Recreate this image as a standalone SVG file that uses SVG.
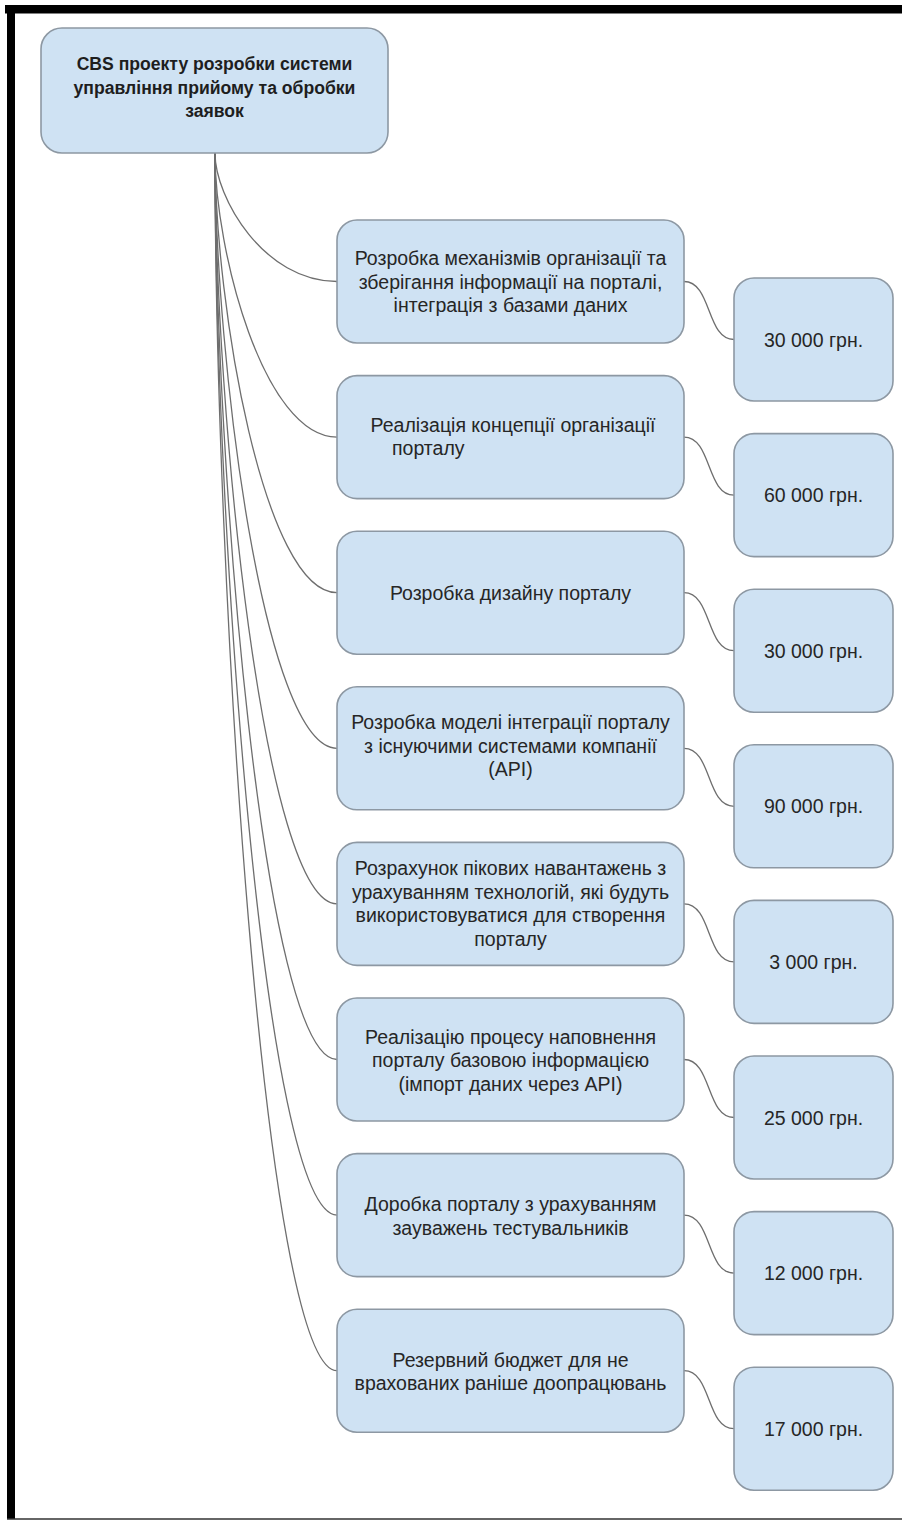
<svg xmlns="http://www.w3.org/2000/svg" width="902" height="1521" viewBox="0 0 902 1521">
  <style>
    .box { fill: #cfe2f3; stroke: #8d98a3; stroke-width: 1.6; }
    .lbl { font-family: "Liberation Sans", Arial, sans-serif; font-size: 19.5px; fill: #262626; text-anchor: middle; }
    .lbl.left { text-anchor: start; }
    .root { font-family: "Liberation Sans", Arial, sans-serif; font-size: 17.6px; font-weight: bold; fill: #1e1e1e; text-anchor: middle; }
    .wire { fill: none; stroke: #6e6e6e; stroke-width: 1.3; }
  </style>

  <!-- page frame -->
  <rect x="0" y="0" width="902" height="1521" fill="#ffffff"/>
  <rect x="5" y="5" width="897" height="8.5" fill="#000000"/>
  <rect x="7" y="5" width="8" height="1514" fill="#000000"/>
  <line x1="7" y1="1519" x2="902" y2="1519" stroke="#333333" stroke-width="1.5"/>

  <!-- connectors -->
  <g id="connectors" class="wire">
    <path d="M215,153 C215,198 264,281.5 337,281.5"/>
    <path d="M215,153 C215,252 264,437.1 337,437.1"/>
    <path d="M215,153 C215,307 264,592.7 337,592.7"/>
    <path d="M215,153 C215,361 264,748.3 337,748.3"/>
    <path d="M215,153 C215,416 264,903.9 337,903.9"/>
    <path d="M215,153 C215,470 264,1059.5 337,1059.5"/>
    <path d="M215,153 C215,525 264,1215.1 337,1215.1"/>
    <path d="M215,153 C215,579 264,1370.7 337,1370.7"/>

    <path d="M684,281.5 C712,281.5 706,339.5 734,339.5"/>
    <path d="M684,437.1 C712,437.1 706,495.1 734,495.1"/>
    <path d="M684,592.7 C712,592.7 706,650.7 734,650.7"/>
    <path d="M684,748.3 C712,748.3 706,806.3 734,806.3"/>
    <path d="M684,903.9 C712,903.9 706,961.9 734,961.9"/>
    <path d="M684,1059.5 C712,1059.5 706,1117.5 734,1117.5"/>
    <path d="M684,1215.1 C712,1215.1 706,1273.1 734,1273.1"/>
    <path d="M684,1370.7 C712,1370.7 706,1428.7 734,1428.7"/>
  </g>

  <!-- root -->
  <g id="root">
    <rect class="box" x="41" y="28" width="347" height="125" rx="21"/>
    <text class="root" x="214.5" y="70">CBS проекту розробки системи</text>
    <text class="root" x="214.5" y="93.5">управління прийому та обробки</text>
    <text class="root" x="214.5" y="117">заявок</text>
  </g>

  <!-- work packages -->
  <g id="task1">
    <rect class="box" x="337" y="220" width="347" height="123" rx="20"/>
    <text class="lbl" x="510.5" y="265">Розробка механізмів організації та</text>
    <text class="lbl" x="510.5" y="288.5">зберігання інформації на порталі,</text>
    <text class="lbl" x="510.5" y="312">інтеграція з базами даних</text>
  </g>
  <g id="task2">
    <rect class="box" x="337" y="375.6" width="347" height="123" rx="20"/>
    <text class="lbl" x="513" y="432">Реалізація концепції організації</text>
    <text class="lbl left" x="392" y="455">порталу</text>
  </g>
  <g id="task3">
    <rect class="box" x="337" y="531.2" width="347" height="123" rx="20"/>
    <text class="lbl" x="510.5" y="600">Розробка дизайну порталу</text>
  </g>
  <g id="task4">
    <rect class="box" x="337" y="686.8" width="347" height="123" rx="20"/>
    <text class="lbl" x="510.5" y="729">Розробка моделі інтеграції порталу</text>
    <text class="lbl" x="510.5" y="752.5">з існуючими системами компанії</text>
    <text class="lbl" x="510.5" y="776">(API)</text>
  </g>
  <g id="task5">
    <rect class="box" x="337" y="842.4" width="347" height="123" rx="20"/>
    <text class="lbl" x="510.5" y="875">Розрахунок пікових навантажень з</text>
    <text class="lbl" x="510.5" y="898.5">урахуванням технологій, які будуть</text>
    <text class="lbl" x="510.5" y="922">використовуватися для створення</text>
    <text class="lbl" x="510.5" y="945.5">порталу</text>
  </g>
  <g id="task6">
    <rect class="box" x="337" y="998" width="347" height="123" rx="20"/>
    <text class="lbl" x="510.5" y="1043.5">Реалізацію процесу наповнення</text>
    <text class="lbl" x="510.5" y="1067">порталу базовою інформацією</text>
    <text class="lbl" x="510.5" y="1090.5">(імпорт даних через API)</text>
  </g>
  <g id="task7">
    <rect class="box" x="337" y="1153.6" width="347" height="123" rx="20"/>
    <text class="lbl" x="510.5" y="1211">Доробка порталу з урахуванням</text>
    <text class="lbl" x="510.5" y="1234.5">зауважень тестувальників</text>
  </g>
  <g id="task8">
    <rect class="box" x="337" y="1309.2" width="347" height="123" rx="20"/>
    <text class="lbl" x="510.5" y="1366.5">Резервний бюджет для не</text>
    <text class="lbl" x="510.5" y="1390">врахованих раніше доопрацювань</text>
  </g>

  <!-- costs -->
  <g id="cost1">
    <rect class="box" x="734" y="278" width="159" height="123" rx="20"/>
    <text class="lbl" x="813.5" y="346.5">30 000 грн.</text>
  </g>
  <g id="cost2">
    <rect class="box" x="734" y="433.6" width="159" height="123" rx="20"/>
    <text class="lbl" x="813.5" y="502">60 000 грн.</text>
  </g>
  <g id="cost3">
    <rect class="box" x="734" y="589.2" width="159" height="123" rx="20"/>
    <text class="lbl" x="813.5" y="657.5">30 000 грн.</text>
  </g>
  <g id="cost4">
    <rect class="box" x="734" y="744.8" width="159" height="123" rx="20"/>
    <text class="lbl" x="813.5" y="813">90 000 грн.</text>
  </g>
  <g id="cost5">
    <rect class="box" x="734" y="900.4" width="159" height="123" rx="20"/>
    <text class="lbl" x="813.5" y="969">3 000 грн.</text>
  </g>
  <g id="cost6">
    <rect class="box" x="734" y="1056" width="159" height="123" rx="20"/>
    <text class="lbl" x="813.5" y="1124.5">25 000 грн.</text>
  </g>
  <g id="cost7">
    <rect class="box" x="734" y="1211.6" width="159" height="123" rx="20"/>
    <text class="lbl" x="813.5" y="1280">12 000 грн.</text>
  </g>
  <g id="cost8">
    <rect class="box" x="734" y="1367.2" width="159" height="123" rx="20"/>
    <text class="lbl" x="813.5" y="1435.5">17 000 грн.</text>
  </g>
</svg>
